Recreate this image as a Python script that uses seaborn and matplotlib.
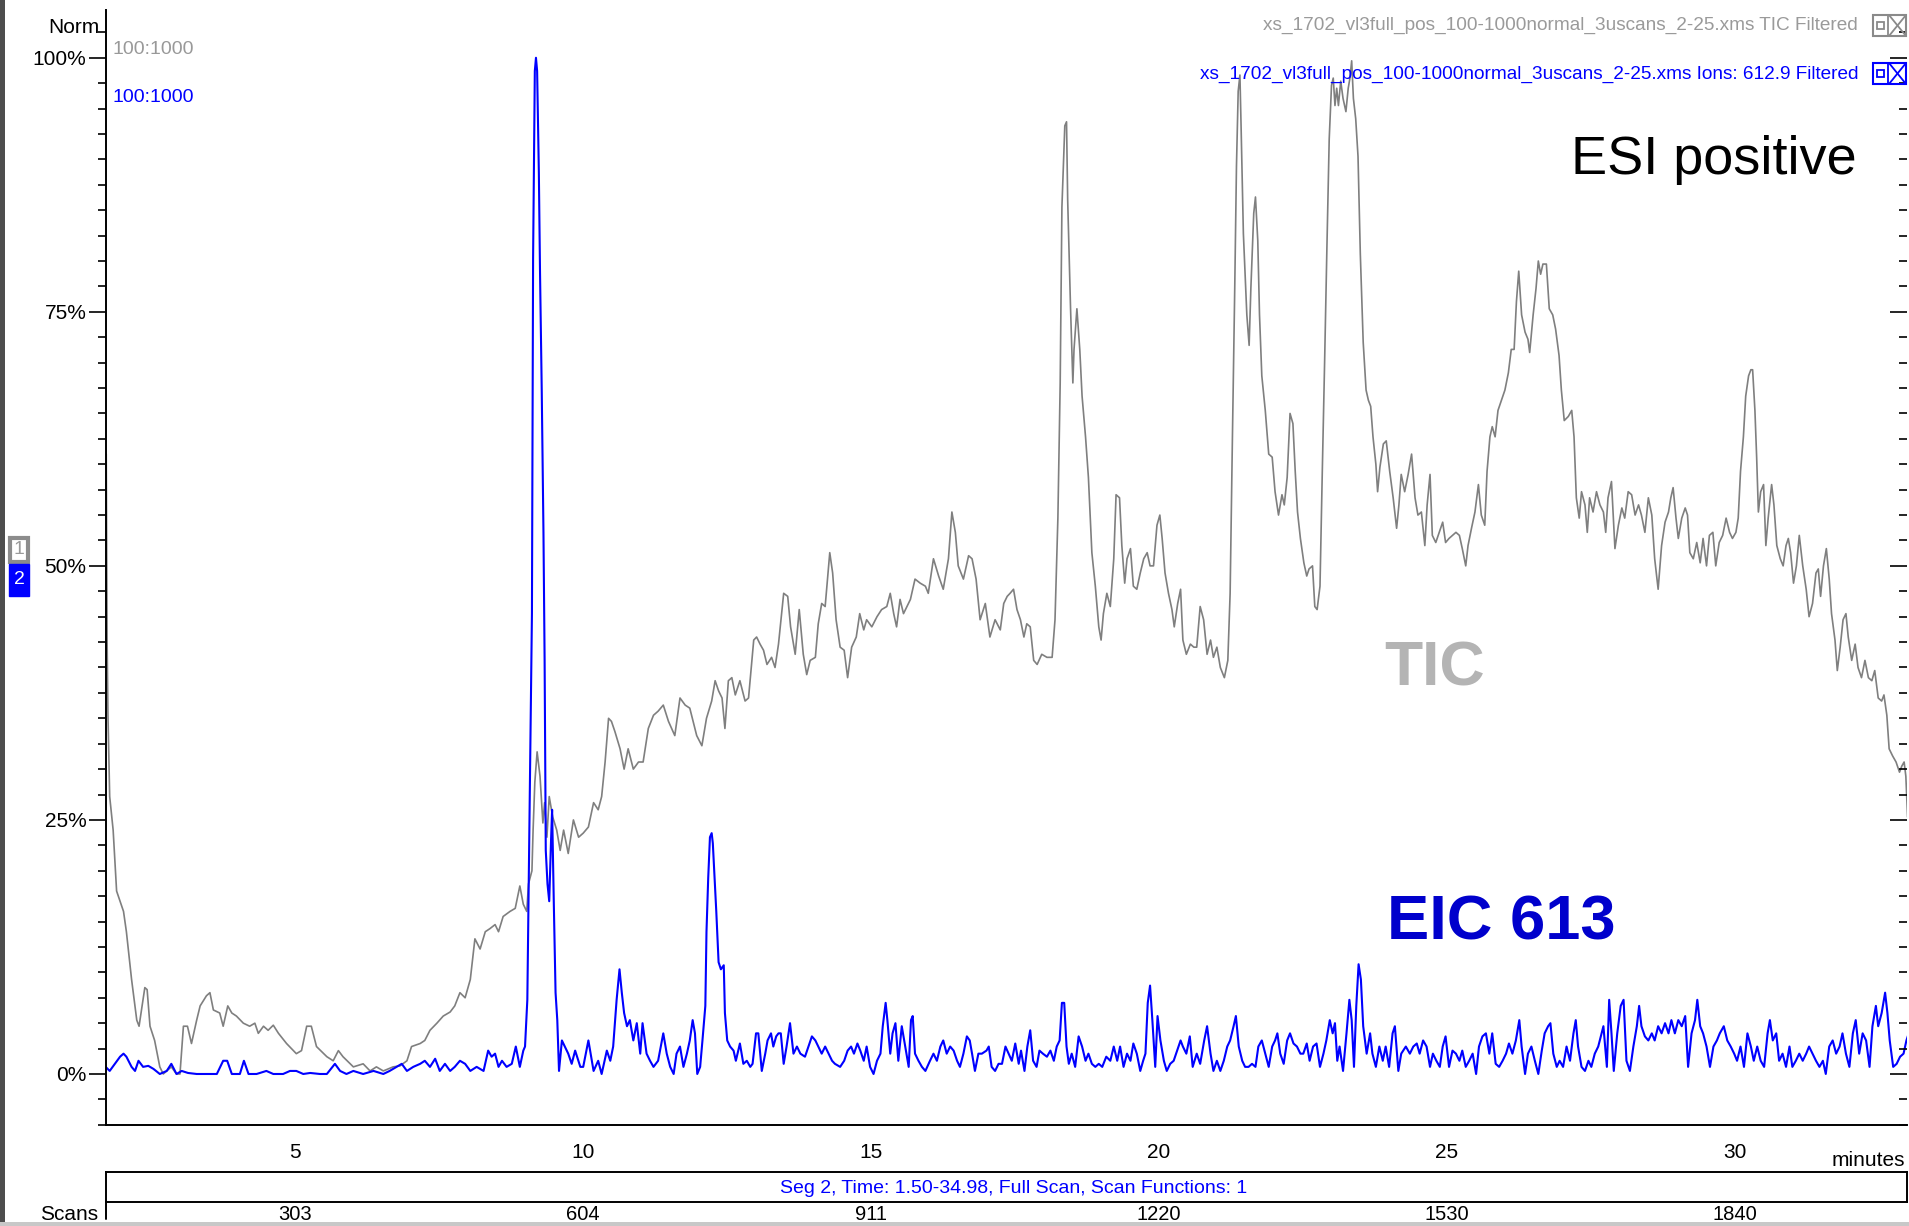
import matplotlib
matplotlib.use("Agg")
import numpy as np
import pandas as pd
import matplotlib.pyplot as plt
import seaborn as sns
from matplotlib.patches import Rectangle
from matplotlib.lines import Line2D
from matplotlib.transforms import blended_transform_factory

# ---------------- data: normalised chromatogram traces (percent of max) ----------------
tic_time = [1.73, 1.745, 1.76, 1.79, 1.85, 1.91, 2.03, 2.08, 2.17, 2.26, 2.30, 2.40, 2.44, 2.49, 2.57,
            2.66, 2.72, 2.86, 2.95, 3.01, 3.07, 3.14, 3.21, 3.30, 3.36, 3.47, 3.53, 3.59, 3.70, 3.76,
            3.84, 3.91, 3.99, 4.11, 4.22, 4.31, 4.37, 4.46, 4.54, 4.63, 4.72, 4.86, 5.03, 5.12, 5.21,
            5.29, 5.38, 5.56, 5.67, 5.76, 5.84, 6.02, 6.19, 6.31, 6.42, 6.54, 6.71, 6.83, 6.95, 7.03,
            7.18, 7.26, 7.35, 7.47, 7.58, 7.70, 7.78, 7.87, 7.96, 8.05, 8.13, 8.22, 8.31, 8.39, 8.48,
            8.54, 8.62, 8.74, 8.83, 8.91, 8.97, 9.03, 9.06, 9.12, 9.14, 9.17, 9.21, 9.26, 9.31, 9.34,
            9.38, 9.42, 9.48, 9.55, 9.61, 9.67, 9.75, 9.84, 9.93, 10.01, 10.10, 10.19, 10.27, 10.33, 10.39,
            10.45, 10.50, 10.56, 10.65, 10.72, 10.79, 10.88, 10.97, 11.05, 11.14, 11.23, 11.31, 11.40, 11.49, 11.60,
            11.69, 11.78, 11.86, 11.98, 12.07, 12.15, 12.24, 12.30, 12.36, 12.42, 12.47, 12.53, 12.59, 12.65, 12.73,
            12.82, 12.88, 12.97, 13.02, 13.08, 13.14, 13.20, 13.28, 13.34, 13.40, 13.49, 13.56, 13.61, 13.69, 13.76,
            13.83, 13.89, 13.95, 14.04, 14.09, 14.15, 14.21, 14.29, 14.34, 14.40, 14.47, 14.54, 14.60, 14.67, 14.75,
            14.81, 14.88, 14.93, 15.02, 15.11, 15.19, 15.28, 15.34, 15.40, 15.45, 15.51, 15.57, 15.63, 15.69, 15.77,
            15.86, 15.95, 16.00, 16.09, 16.18, 16.26, 16.35, 16.41, 16.47, 16.52, 16.61, 16.70, 16.76, 16.83, 16.90,
            16.99, 17.07, 17.16, 17.25, 17.31, 17.37, 17.42, 17.48, 17.54, 17.60, 17.66, 17.71, 17.77, 17.83, 17.89,
            17.97, 18.06, 18.15, 18.20, 18.25, 18.29, 18.32, 18.37, 18.40, 18.42, 18.47, 18.51, 18.53, 18.58, 18.63,
            18.67, 18.73, 18.78, 18.84, 18.90, 18.96, 19.00, 19.04, 19.10, 19.16, 19.22, 19.26, 19.32, 19.36, 19.41,
            19.45, 19.51, 19.56, 19.62, 19.68, 19.74, 19.80, 19.85, 19.91, 19.97, 20.02, 20.06, 20.11, 20.17, 20.23,
            20.27, 20.33, 20.38, 20.42, 20.48, 20.55, 20.61, 20.66, 20.72, 20.78, 20.84, 20.90, 20.95, 21.01, 21.07,
            21.14, 21.20, 21.24, 21.28, 21.32, 21.35, 21.38, 21.41, 21.43, 21.47, 21.53, 21.57, 21.60, 21.65, 21.68,
            21.72, 21.75, 21.79, 21.85, 21.91, 21.97, 22.02, 22.08, 22.14, 22.18, 22.23, 22.28, 22.33, 22.37, 22.41,
            22.46, 22.52, 22.57, 22.61, 22.67, 22.71, 22.75, 22.80, 22.84, 22.88, 22.92, 22.96, 23.00, 23.03, 23.06,
            23.09, 23.12, 23.16, 23.20, 23.25, 23.29, 23.32, 23.35, 23.38, 23.42, 23.46, 23.50, 23.55, 23.60, 23.64,
            23.68, 23.72, 23.77, 23.80, 23.84, 23.90, 23.95, 24.01, 24.07, 24.13, 24.17, 24.21, 24.27, 24.33, 24.39,
            24.45, 24.50, 24.56, 24.62, 24.66, 24.71, 24.75, 24.81, 24.87, 24.93, 24.98, 25.04, 25.10, 25.16, 25.22,
            25.27, 25.33, 25.37, 25.43, 25.49, 25.55, 25.60, 25.66, 25.70, 25.75, 25.79, 25.84, 25.89, 25.95, 26.01,
            26.07, 26.12, 26.17, 26.21, 26.25, 26.30, 26.36, 26.41, 26.44, 26.50, 26.55, 26.59, 26.63, 26.67, 26.73,
            26.78, 26.84, 26.89, 26.95, 26.99, 27.04, 27.11, 27.17, 27.21, 27.25, 27.30, 27.34, 27.40, 27.44, 27.48,
            27.54, 27.60, 27.66, 27.72, 27.76, 27.80, 27.86, 27.92, 27.98, 28.04, 28.09, 28.15, 28.21, 28.27, 28.33,
            28.38, 28.44, 28.50, 28.56, 28.61, 28.67, 28.73, 28.79, 28.85, 28.89, 28.93, 28.98, 29.02, 29.08, 29.14,
            29.18, 29.22, 29.28, 29.34, 29.40, 29.45, 29.51, 29.56, 29.62, 29.67, 29.73, 29.79, 29.85, 29.91, 29.96,
            30.02, 30.06, 30.10, 30.15, 30.19, 30.24, 30.28, 30.31, 30.35, 30.38, 30.41, 30.45, 30.50, 30.54, 30.58,
            30.64, 30.68, 30.73, 30.79, 30.84, 30.89, 30.93, 30.97, 31.02, 31.07, 31.12, 31.18, 31.24, 31.29, 31.35,
            31.41, 31.45, 31.49, 31.54, 31.59, 31.64, 31.68, 31.74, 31.78, 31.83, 31.88, 31.93, 31.97, 32.03, 32.09,
            32.14, 32.20, 32.26, 32.32, 32.38, 32.43, 32.49, 32.55, 32.59, 32.64, 32.68, 32.74, 32.80, 32.86, 32.90,
            32.94, 32.97, 33.00, 33.02]
tic_pct = [61.0, 42.7, 35.3, 27.3, 24.0, 18.0, 16.0, 14.0, 9.3, 5.3, 4.7, 8.5, 8.3, 4.7, 3.3,
           0.7, 0.0, 0.7, 0.0, 0.0, 4.7, 4.7, 3.0, 5.3, 6.7, 7.7, 8.0, 6.3, 6.0, 4.7,
           6.7, 6.0, 5.7, 5.0, 4.7, 5.0, 4.0, 4.7, 4.3, 4.8, 4.0, 3.0, 2.0, 2.3, 4.7,
           4.7, 2.7, 1.7, 1.3, 2.3, 1.7, 0.7, 1.0, 0.3, 0.7, 0.3, 0.7, 0.8, 1.3, 2.7,
           3.0, 3.3, 4.3, 5.0, 5.7, 6.1, 6.7, 8.0, 7.5, 9.3, 13.3, 12.3, 14.0, 14.3, 14.7,
           14.0, 15.5, 16.0, 16.3, 18.5, 16.7, 16.0, 18.7, 20.0, 24.0, 28.7, 31.7, 29.3, 24.7, 26.7,
           23.3, 27.3, 25.3, 24.0, 22.0, 24.0, 21.7, 25.0, 23.3, 23.7, 24.3, 26.7, 26.0, 27.3, 30.7,
           35.0, 34.7, 33.7, 32.0, 30.0, 32.0, 30.0, 30.7, 30.7, 34.0, 35.3, 35.7, 36.3, 34.7, 33.3,
           37.0, 36.3, 36.0, 33.3, 32.3, 35.0, 36.7, 38.7, 37.7, 37.0, 34.0, 38.7, 39.0, 37.3, 38.7,
           36.7, 37.0, 42.7, 43.0, 42.3, 41.7, 40.3, 41.0, 40.0, 42.3, 47.3, 47.0, 44.0, 41.3, 45.7,
           41.3, 39.3, 40.7, 41.0, 44.3, 46.3, 46.0, 51.3, 49.3, 44.7, 42.0, 41.7, 39.0, 42.0, 43.0,
           45.3, 43.7, 44.7, 44.0, 45.0, 45.7, 46.0, 47.3, 45.3, 44.0, 46.7, 45.3, 46.0, 46.7, 48.7,
           48.3, 48.0, 47.3, 50.7, 49.0, 47.7, 50.7, 55.3, 53.3, 50.0, 48.7, 51.0, 50.7, 48.7, 44.7,
           46.3, 43.0, 44.7, 43.7, 46.3, 47.0, 47.3, 47.7, 45.7, 44.7, 43.0, 44.3, 44.0, 40.7, 40.3,
           41.3, 41.0, 41.0, 44.7, 54.7, 68.0, 85.3, 93.3, 93.7, 86.0, 75.3, 68.0, 71.3, 75.3, 71.3,
           66.7, 62.7, 58.7, 51.3, 48.0, 44.0, 42.7, 45.3, 47.3, 46.0, 50.7, 57.0, 56.7, 52.0, 48.3,
           50.7, 51.7, 48.0, 47.7, 49.3, 50.7, 51.3, 50.0, 50.0, 54.0, 55.0, 52.7, 49.3, 47.3, 45.7,
           44.0, 46.3, 47.7, 42.7, 41.3, 42.3, 42.0, 42.0, 46.0, 44.7, 41.3, 42.7, 41.0, 42.0, 40.0,
           39.0, 40.7, 47.3, 62.7, 77.3, 89.3, 96.7, 98.3, 93.3, 82.7, 74.7, 71.7, 77.3, 84.7, 86.3,
           82.0, 74.7, 68.7, 65.3, 61.0, 60.7, 57.3, 55.0, 57.0, 56.0, 58.7, 65.0, 64.0, 59.3, 55.3,
           52.7, 50.3, 49.0, 49.7, 50.0, 46.0, 45.7, 48.0, 59.3, 70.0, 81.3, 92.0, 97.3, 98.0, 95.3,
           97.0, 95.3, 97.7, 96.0, 94.7, 97.0, 98.0, 99.7, 96.0, 94.0, 90.3, 80.7, 72.0, 67.3, 66.3,
           65.7, 62.7, 60.0, 57.3, 59.7, 62.0, 62.3, 59.3, 56.7, 53.7, 56.0, 59.0, 57.3, 59.0, 61.0,
           56.7, 55.0, 55.3, 52.0, 56.0, 59.0, 53.0, 52.3, 53.3, 54.3, 52.3, 52.7, 53.0, 53.3, 53.0,
           51.7, 50.0, 52.0, 53.7, 55.3, 58.0, 55.0, 54.0, 59.3, 62.7, 63.7, 62.7, 65.3, 66.3, 67.3,
           69.0, 71.3, 71.3, 76.0, 79.0, 74.7, 73.0, 72.3, 71.0, 74.7, 77.3, 80.0, 78.7, 79.7, 79.7,
           75.3, 74.7, 73.3, 70.7, 67.3, 64.3, 64.7, 65.3, 62.7, 56.7, 54.7, 57.3, 56.0, 53.3, 56.7,
           55.3, 57.3, 56.0, 55.3, 53.3, 56.7, 58.3, 51.7, 54.0, 55.7, 54.7, 57.3, 57.0, 55.0, 56.0,
           55.0, 53.3, 56.7, 55.0, 50.7, 47.7, 52.0, 54.3, 55.3, 56.7, 57.7, 54.7, 52.7, 54.7, 55.7,
           55.0, 51.3, 50.7, 52.3, 50.3, 52.7, 50.0, 53.0, 53.3, 50.0, 52.3, 53.0, 54.7, 53.3, 52.7,
           53.3, 54.7, 59.3, 62.7, 66.7, 68.7, 69.3, 69.3, 65.3, 60.7, 55.3, 57.3, 58.0, 52.0, 54.7,
           58.0, 56.0, 52.0, 50.7, 50.0, 52.0, 52.7, 51.3, 48.3, 50.0, 53.0, 50.0, 47.7, 45.0, 46.3,
           49.3, 49.7, 47.0, 50.0, 51.7, 48.7, 45.3, 42.7, 39.7, 42.0, 44.7, 45.3, 43.0, 40.7, 42.3,
           40.0, 39.0, 40.7, 39.0, 38.7, 39.7, 37.0, 36.7, 37.3, 35.3, 32.0, 31.3, 30.7, 29.7, 30.3,
           30.7, 29.3, 25.3, 25.0]

eic_time = [1.72, 1.79, 1.88, 1.97, 2.03, 2.08, 2.17, 2.23, 2.29, 2.37, 2.46, 2.55, 2.66, 2.78, 2.86,
            2.95, 3.04, 3.15, 3.30, 3.47, 3.65, 3.76, 3.83, 3.91, 4.05, 4.12, 4.20, 4.34, 4.51, 4.63,
            4.80, 4.92, 5.03, 5.15, 5.27, 5.44, 5.56, 5.70, 5.79, 5.90, 6.02, 6.19, 6.37, 6.54, 6.65,
            6.77, 6.86, 6.95, 7.06, 7.18, 7.26, 7.35, 7.44, 7.52, 7.61, 7.70, 7.78, 7.87, 7.96, 8.05,
            8.16, 8.28, 8.36, 8.42, 8.48, 8.54, 8.60, 8.68, 8.77, 8.84, 8.91, 8.97, 9.00, 9.04, 9.08,
            9.12, 9.14, 9.17, 9.19, 9.21, 9.24, 9.26, 9.29, 9.32, 9.34, 9.36, 9.39, 9.42, 9.45, 9.47,
            9.50, 9.53, 9.56, 9.59, 9.64, 9.69, 9.75, 9.81, 9.87, 9.96, 10.01, 10.10, 10.19, 10.27, 10.33,
            10.42, 10.48, 10.53, 10.59, 10.64, 10.68, 10.72, 10.77, 10.82, 10.88, 10.94, 11.00, 11.04, 11.11, 11.17,
            11.23, 11.31, 11.40, 11.46, 11.52, 11.58, 11.63, 11.69, 11.75, 11.81, 11.86, 11.91, 11.95, 11.99, 12.04,
            12.08, 12.13, 12.15, 12.18, 12.21, 12.24, 12.26, 12.29, 12.32, 12.36, 12.40, 12.45, 12.47, 12.51, 12.56,
            12.62, 12.66, 12.73, 12.79, 12.85, 12.91, 12.95, 13.01, 13.05, 13.11, 13.17, 13.21, 13.27, 13.31, 13.36,
            13.40, 13.44, 13.49, 13.54, 13.60, 13.66, 13.72, 13.78, 13.86, 13.92, 13.98, 14.04, 14.09, 14.15, 14.21,
            14.27, 14.33, 14.38, 14.47, 14.54, 14.60, 14.66, 14.71, 14.77, 14.82, 14.88, 14.93, 14.99, 15.05, 15.11,
            15.17, 15.21, 15.26, 15.29, 15.34, 15.38, 15.43, 15.48, 15.54, 15.60, 15.66, 15.70, 15.73, 15.77, 15.83,
            15.89, 15.95, 16.03, 16.09, 16.15, 16.21, 16.26, 16.32, 16.38, 16.44, 16.50, 16.55, 16.61, 16.67, 16.72,
            16.76, 16.81, 16.87, 16.93, 17.01, 17.05, 17.10, 17.16, 17.22, 17.28, 17.34, 17.45, 17.51, 17.57, 17.61,
            17.67, 17.72, 17.77, 17.82, 17.88, 17.93, 17.99, 18.06, 18.12, 18.18, 18.23, 18.28, 18.32, 18.36, 18.40,
            18.44, 18.49, 18.55, 18.61, 18.67, 18.73, 18.78, 18.84, 18.90, 18.96, 19.02, 19.09, 19.16, 19.22, 19.28,
            19.33, 19.39, 19.45, 19.51, 19.56, 19.62, 19.68, 19.73, 19.77, 19.81, 19.85, 19.89, 19.94, 19.98, 20.03,
            20.09, 20.14, 20.20, 20.26, 20.32, 20.38, 20.42, 20.48, 20.54, 20.59, 20.66, 20.72, 20.79, 20.84, 20.90,
            20.95, 21.01, 21.07, 21.13, 21.19, 21.24, 21.30, 21.34, 21.39, 21.45, 21.50, 21.56, 21.62, 21.68, 21.73,
            21.79, 21.85, 21.91, 21.97, 22.02, 22.06, 22.11, 22.17, 22.23, 22.28, 22.34, 22.40, 22.46, 22.51, 22.57,
            22.62, 22.68, 22.74, 22.80, 22.86, 22.91, 22.97, 23.02, 23.06, 23.10, 23.14, 23.20, 23.26, 23.31, 23.35,
            23.39, 23.43, 23.47, 23.51, 23.55, 23.61, 23.67, 23.71, 23.77, 23.83, 23.89, 23.94, 24.00, 24.06, 24.10,
            24.16, 24.21, 24.29, 24.36, 24.42, 24.48, 24.53, 24.59, 24.65, 24.71, 24.76, 24.82, 24.88, 24.93, 24.98,
            25.04, 25.10, 25.16, 25.22, 25.27, 25.33, 25.39, 25.45, 25.51, 25.56, 25.62, 25.68, 25.74, 25.79, 25.85,
            25.91, 25.97, 26.03, 26.08, 26.14, 26.20, 26.26, 26.30, 26.36, 26.41, 26.47, 26.53, 26.59, 26.65, 26.70,
            26.76, 26.80, 26.85, 26.91, 26.96, 27.02, 27.08, 27.14, 27.20, 27.24, 27.28, 27.34, 27.40, 27.46, 27.51,
            27.57, 27.63, 27.72, 27.78, 27.82, 27.86, 27.90, 27.96, 28.02, 28.07, 28.12, 28.18, 28.24, 28.30, 28.34,
            28.38, 28.44, 28.50, 28.56, 28.61, 28.67, 28.73, 28.79, 28.85, 28.90, 28.96, 29.02, 29.08, 29.14, 29.19,
            29.25, 29.31, 29.35, 29.40, 29.45, 29.51, 29.57, 29.63, 29.69, 29.74, 29.81, 29.87, 29.93, 29.99, 30.04,
            30.10, 30.16, 30.22, 30.28, 30.33, 30.39, 30.45, 30.51, 30.57, 30.61, 30.66, 30.72, 30.77, 30.83, 30.89,
            30.95, 31.00, 31.06, 31.12, 31.18, 31.24, 31.29, 31.35, 31.41, 31.47, 31.53, 31.58, 31.64, 31.70, 31.76,
            31.82, 31.87, 31.93, 31.99, 32.05, 32.10, 32.16, 32.22, 32.28, 32.34, 32.39, 32.45, 32.49, 32.55, 32.61,
            32.65, 32.69, 32.75, 32.81, 32.87, 32.93, 32.98, 33.02]
eic_pct = [0.7, 0.3, 1.0, 1.7, 2.0, 1.7, 0.7, 0.3, 1.3, 0.7, 0.8, 0.5, 0.0, 0.3, 1.0,
           0.0, 0.3, 0.1, 0.0, 0.0, 0.0, 1.3, 1.3, 0.0, 0.0, 1.3, 0.0, 0.0, 0.3, 0.0,
           0.0, 0.3, 0.3, 0.0, 0.1, 0.0, 0.0, 1.0, 0.3, 0.0, 0.3, 0.0, 0.3, 0.0, 0.3,
           0.7, 1.0, 0.3, 0.7, 1.0, 1.3, 0.7, 1.5, 0.3, 1.0, 0.3, 0.7, 1.3, 1.0, 0.3,
           0.7, 0.3, 2.3, 1.7, 2.0, 0.7, 1.3, 0.7, 1.0, 2.7, 0.7, 2.3, 2.7, 7.3, 26.0,
           45.3, 80.3, 98.7, 100.0, 98.7, 88.7, 79.0, 67.3, 53.3, 40.7, 22.0, 18.7, 17.0, 22.7, 26.0,
           16.7, 8.0, 5.3, 0.3, 3.3, 2.7, 2.0, 1.0, 2.3, 0.7, 0.7, 3.3, 0.3, 1.3, 0.0,
           2.3, 1.3, 2.7, 7.3, 10.3, 8.0, 6.0, 4.7, 5.3, 3.3, 5.0, 2.0, 5.0, 2.0, 1.3,
           0.7, 1.3, 4.0, 2.0, 0.7, 0.0, 2.0, 2.7, 0.7, 2.0, 3.3, 5.3, 4.0, 0.0, 0.7,
           3.3, 6.7, 14.0, 19.3, 23.3, 23.7, 22.7, 19.3, 16.0, 11.0, 10.3, 10.7, 6.0, 3.3, 2.7,
           2.3, 1.3, 3.0, 1.0, 1.3, 0.7, 1.0, 4.0, 4.0, 0.3, 2.0, 3.3, 4.0, 2.7, 3.7,
           4.0, 4.0, 1.0, 2.7, 5.0, 2.0, 2.7, 2.0, 1.7, 2.7, 3.7, 3.3, 2.7, 2.0, 2.7,
           2.0, 1.3, 1.0, 0.7, 1.3, 2.3, 2.7, 2.0, 3.0, 2.3, 1.3, 2.7, 0.7, 0.0, 1.3,
           2.0, 4.7, 7.0, 5.3, 2.0, 4.0, 5.0, 1.3, 4.7, 2.7, 0.7, 5.3, 5.7, 2.0, 1.3,
           0.7, 0.3, 1.3, 2.0, 1.3, 2.7, 3.3, 2.0, 2.7, 2.3, 1.3, 0.7, 2.0, 3.7, 3.3,
           2.0, 0.3, 2.0, 2.0, 2.3, 2.7, 0.7, 0.3, 1.0, 1.0, 2.7, 1.3, 3.0, 1.0, 2.3,
           0.3, 2.7, 4.3, 1.3, 0.7, 2.3, 2.0, 1.7, 2.3, 1.3, 2.7, 3.3, 7.0, 7.0, 2.7,
           1.0, 2.0, 0.7, 3.7, 2.7, 1.3, 2.0, 1.0, 0.7, 1.0, 0.7, 1.7, 1.3, 2.7, 1.3,
           2.7, 0.7, 2.0, 1.3, 3.0, 2.0, 0.3, 1.3, 2.0, 7.0, 8.7, 5.3, 0.7, 5.7, 3.3,
           1.3, 0.3, 1.0, 1.3, 2.3, 3.3, 2.7, 2.0, 3.7, 0.7, 2.0, 1.0, 3.3, 4.7, 2.0,
           0.3, 1.3, 0.3, 1.3, 2.7, 3.3, 4.7, 5.7, 2.7, 1.3, 0.7, 0.7, 1.0, 0.7, 2.7,
           3.3, 2.0, 0.7, 2.7, 3.3, 4.0, 2.0, 1.0, 3.3, 4.0, 3.0, 2.7, 2.0, 2.0, 3.0,
           1.3, 2.7, 3.0, 0.7, 2.0, 3.3, 5.3, 4.0, 5.0, 1.3, 2.7, 0.3, 4.0, 7.3, 5.3,
           0.7, 6.7, 10.8, 9.3, 4.7, 2.0, 4.0, 2.0, 0.7, 2.7, 1.3, 2.7, 0.7, 4.0, 4.7,
           0.3, 2.0, 2.7, 2.0, 2.7, 3.0, 2.0, 3.3, 2.7, 0.7, 2.0, 1.3, 0.7, 2.7, 3.7,
           0.7, 2.3, 2.0, 1.3, 2.3, 0.7, 1.3, 2.0, 0.0, 2.7, 3.7, 4.0, 2.0, 4.0, 1.0,
           0.7, 1.3, 2.0, 3.0, 2.0, 3.3, 5.3, 2.7, 0.0, 2.0, 2.7, 1.3, 0.0, 2.3, 4.0,
           4.7, 5.0, 2.0, 0.7, 1.3, 0.7, 2.7, 1.3, 4.0, 5.3, 2.7, 0.7, 0.3, 1.3, 0.7,
           2.0, 2.7, 4.7, 0.7, 7.3, 4.0, 0.3, 4.0, 6.7, 7.3, 1.3, 0.3, 2.7, 4.7, 6.7,
           4.7, 3.7, 3.3, 4.0, 3.3, 4.7, 4.0, 5.0, 4.0, 5.3, 4.0, 5.3, 4.7, 5.7, 0.7,
           4.0, 5.3, 7.3, 4.7, 4.0, 2.7, 0.7, 2.7, 3.3, 4.0, 4.7, 3.3, 2.7, 2.0, 1.3,
           2.7, 0.7, 4.0, 2.7, 1.3, 2.7, 1.3, 0.7, 4.0, 5.3, 3.3, 4.0, 1.3, 2.0, 0.7,
           2.7, 0.7, 1.3, 2.0, 1.3, 2.0, 2.7, 2.0, 1.3, 0.7, 1.3, 0.0, 2.7, 3.3, 2.0,
           2.7, 4.0, 2.0, 0.7, 4.0, 5.3, 2.0, 4.0, 3.3, 0.7, 4.7, 6.7, 4.7, 6.0, 8.0,
           6.0, 3.3, 0.7, 1.0, 1.7, 2.0, 3.3, 4.0]

# axis scales
minute_ticks = [5, 10, 15, 20, 25, 30]
scan_labels = ["303", "604", "911", "1220", "1530", "1840"]
pct_ticks = [0, 25, 50, 75, 100]
pct_labels = ["0%", "25%", "50%", "75%", "100%"]

# ---------------- figure ----------------
W, H = 1909, 1226
sns.set_style("white")
plt.rcParams["font.family"] = ["Liberation Sans Narrow", "Liberation Sans", "DejaVu Sans"]
ARIAL = ["Liberation Sans", "DejaVu Sans"]
GREY_LINE = "#7f7f7f"
BLUE_LINE = "#0000ff"

fig = plt.figure(figsize=(W / 100, H / 100), dpi=100)
fig.patch.set_facecolor("white")


def fx(x):
    return x / W


def fy(y):
    return 1 - y / H


X0, X1 = 106, 1907
ax = fig.add_axes([fx(X0), fy(1125), (X1 - X0) / W, (1125 - 10) / H])

tic_df = pd.DataFrame({"time": tic_time, "pct": tic_pct})
eic_df = pd.DataFrame({"time": eic_time, "pct": eic_pct})

# TIC underneath, extracted-ion trace on top
sns.lineplot(data=tic_df, x="time", y="pct", color=GREY_LINE, estimator=None, sort=False,
             linewidth=1.2, ax=ax)
sns.lineplot(data=eic_df, x="time", y="pct", color=BLUE_LINE, estimator=None, sort=False,
             linewidth=1.5, ax=ax)

ax.set_xlim(1.726, 32.99)
ax.set_ylim(-5.02, 104.7)
ax.set_xlabel("")
ax.set_ylabel("")
ax.set_facecolor("white")
for side in ("top", "right"):
    ax.spines[side].set_visible(False)
for side in ("left", "bottom"):
    ax.spines[side].set_color("black")
    ax.spines[side].set_linewidth(1.4)

ax.set_xticks(minute_ticks)
ax.set_xticklabels([str(m) for m in minute_ticks])
ax.set_xticks(np.arange(2.0, 33.0, 0.5), minor=True)
ax.set_yticks(pct_ticks)
ax.set_yticklabels(pct_labels)
ax.set_yticks(np.arange(-5.0, 103.0, 2.5), minor=True)
ax.tick_params(axis="both", which="both", direction="out", color="black", width=1.2,
               labelsize=15, labelcolor="black")
ax.tick_params(axis="y", which="major", length=12, pad=2)
ax.tick_params(axis="y", which="minor", length=6)
ax.tick_params(axis="x", which="major", length=9, pad=4)
ax.tick_params(axis="x", which="minor", length=6)

# right-hand inward ticks
ax_r = ax.twinx()
ax_r.set_ylim(ax.get_ylim())
ax_r.set_yticks(pct_ticks)
ax_r.set_yticks(np.arange(-5.0, 103.0, 2.5), minor=True)
ax_r.tick_params(axis="y", which="both", direction="in", labelright=False, width=1.2, color="black")
ax_r.tick_params(axis="y", which="major", length=12)
ax_r.tick_params(axis="y", which="minor", length=6)
for s in ax_r.spines.values():
    s.set_visible(False)

# scan-number bar under the time axis
ax_s = fig.add_axes([fx(X0), fy(1202), (X1 - X0) / W, 30 / H])
ax_s.set_xlim(ax.get_xlim())
ax_s.set_ylim(0, 1)
ax_s.set_yticks([])
ax_s.set_xticks(minute_ticks)
ax_s.set_xticklabels([])
ax_s.tick_params(axis="x", direction="out", length=6, width=1.2)
for s in ax_s.spines.values():
    s.set_color("black")
    s.set_linewidth(1.4)
ax_s.text(0.504, 0.45, "Seg 2, Time: 1.50-34.98, Full Scan, Scan Functions: 1",
          transform=ax_s.transAxes, ha="center", va="center", color="#0000ff", fontsize=14)
scan_tf = blended_transform_factory(ax_s.transData, fig.transFigure)
for m, lab in zip(minute_ticks, scan_labels):
    ax_s.text(m, fy(1214), lab, transform=scan_tf, ha="center", va="center",
              fontsize=14.5, color="black")
fig.add_artist(Line2D([fx(X0), fx(X0)], [fy(1202), fy(1219)], color="black", lw=1.4))

# axis captions
fig.text(fx(100), fy(33), "Norm", ha="right", va="baseline", fontsize=15, color="black")
fig.text(fx(1905), fy(1161), "minutes", ha="right", va="center", fontsize=15, color="black")
fig.text(fx(98), fy(1214), "Scans", ha="right", va="center", fontsize=15, color="black")

# trace scale captions
fig.text(fx(113), fy(50), "100:1000", ha="left", va="center", fontsize=14, color="#999999")
fig.text(fx(113), fy(98), "100:1000", ha="left", va="center", fontsize=14, color="#0000ff")

# trace headers
fig.text(fx(1858), fy(25), "xs_1702_vl3full_pos_100-1000normal_3uscans_2-25.xms TIC Filtered",
         ha="right", va="center", fontsize=13.7, color="#9a9a9a")
fig.text(fx(1858), fy(74), "xs_1702_vl3full_pos_100-1000normal_3uscans_2-25.xms Ions: 612.9 Filtered",
         ha="right", va="center", fontsize=13.7, color="#0000ff")


def trace_icon(y_top, colour):
    x0, w, h = 1873, 33, 21
    fig.add_artist(Rectangle((fx(x0), fy(y_top + h)), w / W, h / H, fill=False,
                             edgecolor=colour, lw=1.5, transform=fig.transFigure))
    fig.add_artist(Line2D([fx(x0 + 15), fx(x0 + 15)], [fy(y_top), fy(y_top + h)], color=colour, lw=1.3))
    fig.add_artist(Rectangle((fx(x0 + 4), fy(y_top + 14)), 7 / W, 7 / H, fill=False,
                             edgecolor=colour, lw=1.3, transform=fig.transFigure))
    fig.add_artist(Line2D([fx(x0 + 16), fx(x0 + w)], [fy(y_top), fy(y_top + h)], color=colour, lw=1.3))
    fig.add_artist(Line2D([fx(x0 + 16), fx(x0 + w)], [fy(y_top + h), fy(y_top)], color=colour, lw=1.3))


trace_icon(15, "#8a8a8a")
trace_icon(63, "#0000ff")

# annotations in the plot
fig.text(fx(1571), fy(174), "ESI positive", ha="left", va="baseline", fontsize=39,
         color="black", family=ARIAL)
fig.text(fx(1384), fy(686), "TIC", ha="left", va="baseline", fontsize=45, fontweight="bold",
         color="#b4b4b4", family=ARIAL)
fig.text(fx(1387), fy(939), "EIC 613", ha="left", va="baseline", fontsize=45.5, fontweight="bold",
         color="#0000cc", family=ARIAL)

# trace selector boxes at the left edge
fig.add_artist(Rectangle((fx(10), fy(562)), 18 / W, 24 / H, facecolor="white",
                         edgecolor="#8c8c8c", lw=3, transform=fig.transFigure))
fig.text(fx(19), fy(550), "1", ha="center", va="center", fontsize=14, color="#9a9a9a")
fig.add_artist(Rectangle((fx(9), fy(596)), 20 / W, 32 / H, facecolor="#0000ff",
                         edgecolor="#0000ff", lw=1, transform=fig.transFigure))
fig.text(fx(19), fy(580), "2", ha="center", va="center", fontsize=14, color="white")

# window frame
fig.add_artist(Rectangle((0, 0), 5 / W, 1, facecolor="#4d4d4d", edgecolor="none",
                         transform=fig.transFigure))
fig.add_artist(Rectangle((0, 0), 1, 4 / H, facecolor="#c8c8c8", edgecolor="none",
                         transform=fig.transFigure))

fig.savefig("out.png", dpi=100, facecolor="white")
